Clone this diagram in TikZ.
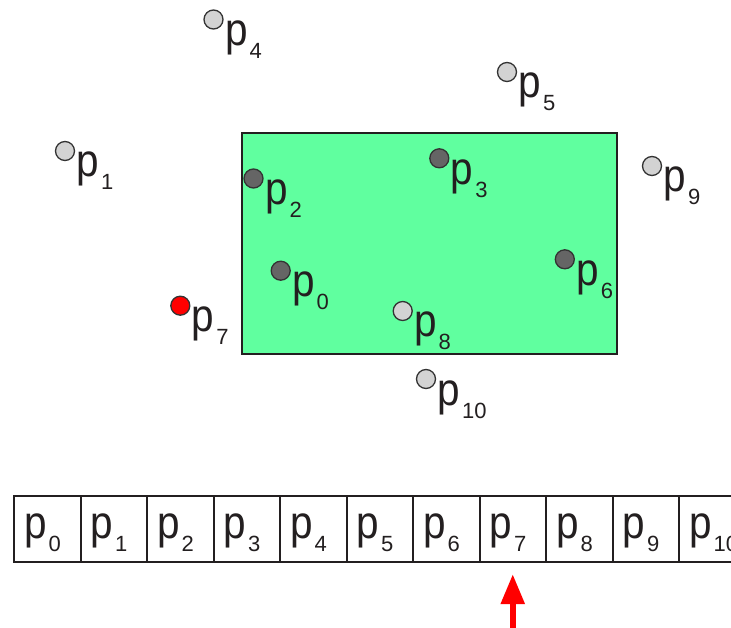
\documentclass[tikz,border=0pt]{standalone}
\usepackage{graphicx}
\usepackage{fontspec}
\setmainfont{Liberation Sans}
\usetikzlibrary{arrows.meta}
\definecolor{boxgreen}{HTML}{60FF9F}
\definecolor{inkc}{HTML}{231F20}
\definecolor{darkpt}{HTML}{656565}
\definecolor{lightpt}{HTML}{D3D3D3}
\definecolor{ptline}{HTML}{333333}
\definecolor{redpt}{HTML}{FF0000}
\newcommand{\plab}[1]{\scalebox{0.88}[1]{\fontsize{46}{46}\selectfont p}\kern2pt\raisebox{-13pt}{\fontsize{22}{22}\selectfont #1}}
\tikzset{
  pt/.style={circle, draw=ptline, line width=1.3pt, minimum size=19pt, inner sep=0pt},
  ptdark/.style={pt, fill=darkpt},
  ptlight/.style={pt, fill=lightpt},
  ptred/.style={pt, fill=redpt},
  plabel/.style={anchor=base west, inner sep=0pt, outer sep=0pt, text=inkc},
  cell/.style={draw=inkc, line width=2pt, minimum width=66.5pt, minimum height=66pt, inner sep=0pt},
  region/.style={draw=inkc, line width=2pt, fill=boxgreen},
}
\begin{document}
\begin{tikzpicture}[x=1pt, y=-1pt]
\clip (0,0) rectangle (731,628);
\fill[white] (0,0) rectangle (731,628);
% region
\draw[region] (241.7,133.3) rectangle (616.7,354);
% points
\foreach \n/\x/\y/\s in {0/280.7/270.7/ptdark, 1/65/151/ptlight, 2/253.5/178.5/ptdark, 3/439.3/158.3/ptdark, 4/213.5/19.5/ptlight, 5/507/72/ptlight, 6/564.8/259.3/ptdark, 7/180.3/305.7/ptred, 8/402.7/311/ptlight, 9/652/166/ptlight, 10/426/379/ptlight}{
  \node[\s] (p\n) at (\x,\y) {};
  \node[plabel] (l\n) at ([shift={(11.5,26)}]p\n.center) {\plab{\n}};
}
% array
\foreach \i in {0,...,10}{
  \node[cell] (c\i) at ({14+66.5*\i+33.25},529) {};
  \node[plabel] (t\i) at ([shift={(11,9)}]c\i.west) {\plab{\i}};
}
% arrow
\coordinate (atail) at ([shift={(0,90)}]c7.south);
\draw[redpt, line width=6.3pt, -{Triangle[width=22.6pt,length=30pt]}] (atail) -- ([shift={(0,11)}]c7.south);
\end{tikzpicture}
\end{document}
